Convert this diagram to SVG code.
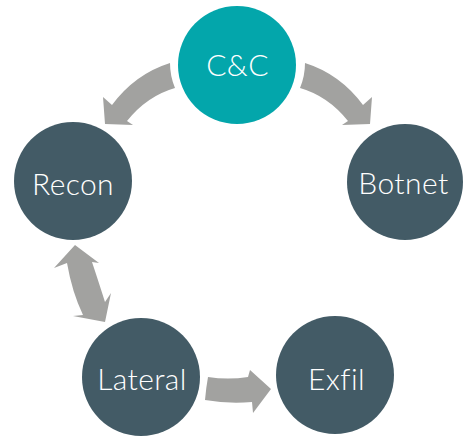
<svg xmlns="http://www.w3.org/2000/svg" width="465" height="437" viewBox="0 0 465 437">
<style>
.dark{fill:#435b66}
.teal{fill:#03a6ab}
.arrow{fill:#a2a2a0}
.lbl{font-family:Lato,"Open Sans","Liberation Sans",sans-serif;font-size:30px;font-weight:300;fill:#ffffff;text-anchor:middle;font-variant-ligatures:none;letter-spacing:0.4px}
</style>
<rect width="465" height="437" fill="#ffffff"/>
<g id="connectors">
<path class="arrow" d="M170,63 Q135,74 112,105 L103,97 L105,124 L133,125 L127,121 Q147,96 175,88 Q170,76 170,63 Z"/>
<path class="arrow" d="M305,63 Q340,74 363,105 L372,97 L370,124 L342,125 L348,121 Q328,96 300,88 Q305,76 305,63 Z"/>
<path class="arrow" d="M75,245 L99,263 L92,262 Q98,280 105,302 L111,293 L105,322 L73,316 L83,315 Q72,292 67,263 L54,268 Z"/>
<path class="arrow" d="M208,377 Q228,380 248,377 L250,370 L271,389 L253,413 L252,402 Q228,404 205,400 Q206,388 208,377 Z"/>
</g>
<g id="cc">
<circle class="teal" cx="237" cy="65" r="59"/>
<text class="lbl" x="237.5" y="76">C&amp;C</text>
</g>
<g id="recon">
<circle class="dark" cx="73" cy="181" r="59"/>
<text class="lbl" x="73" y="195">Recon</text>
</g>
<g id="botnet">
<circle class="dark" cx="405" cy="182" r="58"/>
<text class="lbl" x="403.5" y="194">Botnet</text>
</g>
<g id="lateral">
<circle class="dark" cx="141" cy="377" r="59"/>
<text class="lbl" x="142" y="390">Lateral</text>
</g>
<g id="exfil">
<circle class="dark" cx="335" cy="375" r="59"/>
<text class="lbl" x="336.5" y="390">Exfil</text>
</g>
</svg>
